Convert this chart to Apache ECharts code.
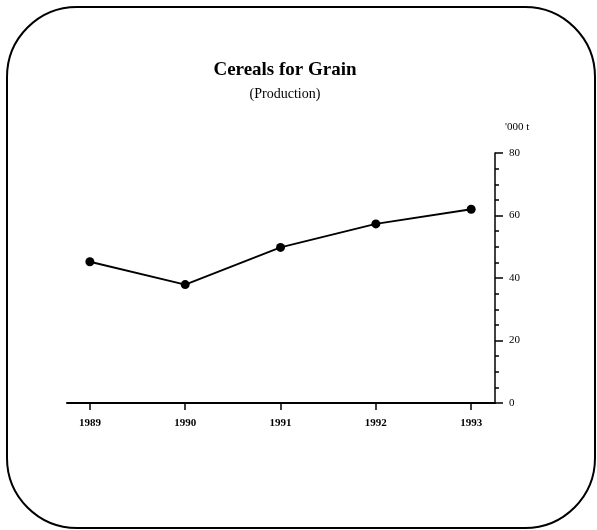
<!DOCTYPE html>
<html>
<head>
<meta charset="utf-8">
<script src="https://cdn.jsdelivr.net/npm/echarts@6/dist/echarts.min.js"></script>
<style>
  html, body { margin: 0; padding: 0; background: #fff; }
  #chart { width: 597px; height: 530px; }
</style>
</head>
<body>
<div id="chart"></div>
<script>
// data
var years = [1989, 1990, 1991, 1992, 1993];
var production = [45.2, 37.9, 49.8, 57.3, 62.0];   // '000 t
var yTicks = [0, 20, 40, 60, 80];

var serif = 'Liberation Serif';

var chart = echarts.init(document.getElementById('chart'));
chart.setOption({
  animation: false,
  backgroundColor: '#fff',
  graphic: [
    {
      type: 'rect',
      shape: { x: 7, y: 7, width: 588, height: 521, r: 70 },
      style: { fill: 'none', stroke: '#000', lineWidth: 2 },
      silent: true
    }
  ],
  title: {
    text: 'Cereals for Grain',
    subtext: '(Production)',
    left: 280,
    top: 56,
    textAlign: 'center',
    itemGap: 7,
    textStyle: { fontFamily: serif, fontWeight: 'bold', fontSize: 19, color: '#000' },
    subtextStyle: { fontFamily: serif, fontSize: 14, color: '#000' }
  },
  grid: { left: 67, right: 102, top: 153, bottom: 127, containLabel: false },
  xAxis: {
    type: 'value',
    min: 1988.76,
    max: 1993.25,
    axisLine: { show: true, lineStyle: { color: '#000', width: 2 } },
    axisTick: { show: true, customValues: years, length: 7, lineStyle: { color: '#000', width: 1.5 } },
    axisLabel: {
      customValues: years,
      formatter: function (v) { return String(v); },
      margin: 15,
      fontFamily: serif,
      fontSize: 11,
      fontWeight: 'bold',
      color: '#000'
    },
    splitLine: { show: false }
  },
  yAxis: {
    type: 'value',
    position: 'right',
    min: yTicks[0],
    max: yTicks[yTicks.length - 1],
    interval: 20,
    name: "'000 t",
    nameLocation: 'end',
    nameGap: 20,
    nameTextStyle: { fontFamily: serif, fontSize: 11, color: '#000', align: 'left', padding: [0, 0, 0, 10] },
    axisLine: { show: true, lineStyle: { color: '#000', width: 1.5 } },
    axisTick: { show: true, length: 8, lineStyle: { color: '#000', width: 1.5 } },
    minorTick: { show: true, splitNumber: 4, length: 4, lineStyle: { color: '#000', width: 1.5 } },
    axisLabel: { margin: 14, fontFamily: serif, fontSize: 11, color: '#000' },
    splitLine: { show: false },
    minorSplitLine: { show: false }
  },
  series: [
    {
      type: 'line',
      data: years.map(function (y, i) { return [y, production[i]]; }),
      symbol: 'circle',
      symbolSize: 9,
      itemStyle: { color: '#000' },
      lineStyle: { color: '#000', width: 1.8 }
    }
  ]
});
</script>
</body>
</html>
